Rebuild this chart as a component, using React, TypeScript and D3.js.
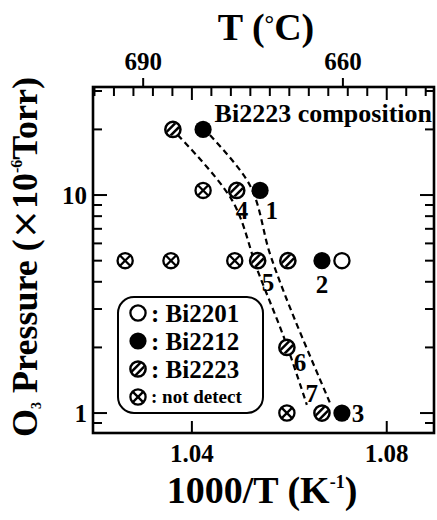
import * as d3 from 'd3';

// 1000/T (K^-1) and O3 pressure (x10^-6 Torr)
const bi2201 = [[1.0708, 5]];
const bi2212 = [[1.0423, 20], [1.054, 10.5], [1.0667, 5], [1.0708, 1]];
const bi2223 = [[1.0361, 20], [1.0492, 10.5], [1.0535, 5], [1.0597, 5], [1.0595, 2], [1.0667, 1]];
const notDetect = [[1.0423, 10.5], [1.0263, 5], [1.0357, 5], [1.0488, 5], [1.0595, 1]];

// dashed guide curves
const curveLeft = [[1.0357, 20.3], [1.0482, 9.5], [1.0535, 4.5], [1.0591, 2.16], [1.0636, 1.09]];
const curveRight = [[1.0423, 20.3], [1.0519, 11.1], [1.056, 5.4], [1.0601, 3.06], [1.0683, 1.12]];

// sample numbers
const sampleLabels = [
  { t: '1', x: 1.0564, p: 8.45 },
  { t: '4', x: 1.0503, p: 8.45 },
  { t: '5', x: 1.0556, p: 3.95 },
  { t: '2', x: 1.0667, p: 3.87 },
  { t: '6', x: 1.0622, p: 1.71 },
  { t: '7', x: 1.0646, p: 1.235 },
  { t: '3', x: 1.0741, p: 1.0 },
];

const bottomTicks = [1.04, 1.08];
const bottomTickLabels = ['1.04', '1.08'];
const topTempTicks = [1.03, 1.071]; // where the T labels sit on the 1000/T axis
const topTempLabels = ['690', '660'];
const yMajor = [1, 10];
const yMajorLabels = ['1', '10'];
const yMinor = [0.9, 2, 3, 4, 5, 6, 7, 8, 9, 20, 30];

const legendItems = [
  { kind: 'open', label: ': Bi2201' },
  { kind: 'filled', label: ': Bi2212' },
  { kind: 'hatched', label: ': Bi2223' },
  { kind: 'cross', label: ': not detect' },
];

const FONT = '"Liberation Serif", "Times New Roman", serif';

function Marker({ kind, cx, cy }) {
  const r = 7.6;
  if (kind === 'filled') return <circle cx={cx} cy={cy} r={8.6} fill="black" />;
  if (kind === 'open')
    return <circle cx={cx} cy={cy} r={r} fill="white" stroke="black" strokeWidth={2.3} />;
  if (kind === 'hatched') {
    const k = 0.7071;
    return (
      <g transform={`translate(${cx},${cy})`}>
        <circle r={r} fill="white" stroke="black" strokeWidth={2.5} />
        <g clipPath="url(#innerClip)">
          {[-2.7, 2.7].map((o) => (
            <line
              key={o}
              x1={o * k - 12 * k}
              y1={o * k + 12 * k}
              x2={o * k + 12 * k}
              y2={o * k - 12 * k}
              stroke="black"
              strokeWidth={2.5}
            />
          ))}
        </g>
      </g>
    );
  }
  const a = r * 0.7071;
  return (
    <g transform={`translate(${cx},${cy})`}>
      <circle r={r} fill="white" stroke="black" strokeWidth={2.3} />
      <line x1={-a} y1={-a} x2={a} y2={a} stroke="black" strokeWidth={2.3} />
      <line x1={-a} y1={a} x2={a} y2={-a} stroke="black" strokeWidth={2.3} />
    </g>
  );
}

export default function App() {
  const left = 93, right = 434, top = 87, bottom = 433;
  const x = d3.scaleLinear().domain([1.0197, 1.0897]).range([left, right]);
  const y = d3.scaleLog().domain([0.81, 31.3]).range([bottom, top]);
  const line = d3
    .line()
    .x((d) => x(d[0]))
    .y((d) => y(d[1]))
    .curve(d3.curveCatmullRom.alpha(0.5));

  const topMinor = d3.range(0, 18).map((i) => 1.02 + i * 0.004);

  const series = [
    ...notDetect.map((d) => ({ kind: 'cross', d })),
    ...bi2223.map((d) => ({ kind: 'hatched', d })),
    ...bi2212.map((d) => ({ kind: 'filled', d })),
    ...bi2201.map((d) => ({ kind: 'open', d })),
  ];

  return (
    <svg
      width={437}
      height={520}
      style={{ position: 'absolute', left: 0, top: 0, background: 'white' }}
      fontFamily={FONT}
      fontWeight="bold"
    >
      <defs>
        <clipPath id="innerClip">
          <circle r={6.6} />
        </clipPath>
      </defs>

      {/* ticks */}
      <g stroke="black" strokeWidth={2}>
        {yMajor.map((v) => (
          <g key={'M' + v}>
            <line x1={left} x2={left + 14} y1={y(v)} y2={y(v)} />
            <line x1={right} x2={right - 14} y1={y(v)} y2={y(v)} />
          </g>
        ))}
        {yMinor.map((v) => (
          <g key={'m' + v}>
            <line x1={left} x2={left + 9} y1={y(v)} y2={y(v)} />
            <line x1={right} x2={right - 9} y1={y(v)} y2={y(v)} />
          </g>
        ))}
        {bottomTicks.map((v) => (
          <line key={'b' + v} x1={x(v)} x2={x(v)} y1={bottom} y2={bottom - 12} />
        ))}
        {topMinor.map((v) => (
          <line
            key={'t' + v}
            x1={x(v)}
            x2={x(v)}
            y1={top}
            y2={top + (Math.abs(v - 1.04) < 1e-6 || Math.abs(v - 1.08) < 1e-6 ? 13 : 9)}
          />
        ))}
        {topTempTicks.map((v) => (
          <line key={'T' + v} x1={x(v)} x2={x(v)} y1={top} y2={top - 9} />
        ))}
      </g>

      <rect x={left} y={top} width={right - left} height={bottom - top} fill="none" stroke="black" strokeWidth={2.6} />

      {/* dashed guides */}
      <g fill="none" stroke="black" strokeWidth={2.2} strokeDasharray="6,4">
        <path d={line(curveLeft)} />
        <path d={line(curveRight)} />
      </g>

      {/* data */}
      {series.map((s, i) => (
        <Marker key={i} kind={s.kind} cx={x(s.d[0])} cy={y(s.d[1])} />
      ))}

      {sampleLabels.map((l) => (
        <text key={l.t} x={x(l.x)} y={y(l.p)} fontSize={25} textAnchor="middle" dominantBaseline="central">
          {l.t}
        </text>
      ))}

      <text x={432} y={122} fontSize={26} textAnchor="end">
        Bi2223 composition
      </text>

      {/* legend */}
      <rect x={118} y={297} width={145} height={116} rx={16} fill="white" stroke="black" strokeWidth={2} />
      {legendItems.map((it, i) => (
        <g key={it.label}>
          <Marker kind={it.kind} cx={138} cy={313 + i * 28} />
          <text x={151} y={313 + i * 28} dy="0.34em" fontSize={i === 3 ? 19 : 25}>
            {it.label}
          </text>
        </g>
      ))}

      {/* tick labels */}
      {bottomTicks.map((v, i) => (
        <text key={'bl' + v} x={x(v)} y={462} fontSize={25} textAnchor="middle">
          {bottomTickLabels[i]}
        </text>
      ))}
      {topTempTicks.map((v, i) => (
        <text key={'tl' + v} x={x(v)} y={70} fontSize={25} textAnchor="middle">
          {topTempLabels[i]}
        </text>
      ))}
      {yMajor.map((v, i) => (
        <text key={'yl' + v} x={87} y={y(v)} dy="0.34em" fontSize={25} textAnchor="end">
          {yMajorLabels[i]}
        </text>
      ))}

      {/* axis titles */}
      <text x={262} y={503} fontSize={38} textAnchor="middle">
        1000/T (K
        <tspan fontSize={18} dy={-15}>-1</tspan>
        <tspan dy={15}>)</tspan>
      </text>
      <text x={266} y={40} fontSize={38} textAnchor="middle">
        T (
        <tspan fontSize={24} dy={-8}>°</tspan>
        <tspan dy={8}>C)</tspan>
      </text>
      <text transform="translate(37,257) rotate(-90)" fontSize={36} textAnchor="middle">
        O<tspan fontSize={14} dy={4}>3</tspan>
        <tspan dy={-4}> Pressure (</tspan>
        <tspan fontFamily="DejaVu Sans" fontWeight="normal">×</tspan>
        <tspan>10</tspan>
        <tspan fontSize={16} dy={-15}>-6</tspan>
        <tspan dy={15}>Torr)</tspan>
      </text>
    </svg>
  );
}
